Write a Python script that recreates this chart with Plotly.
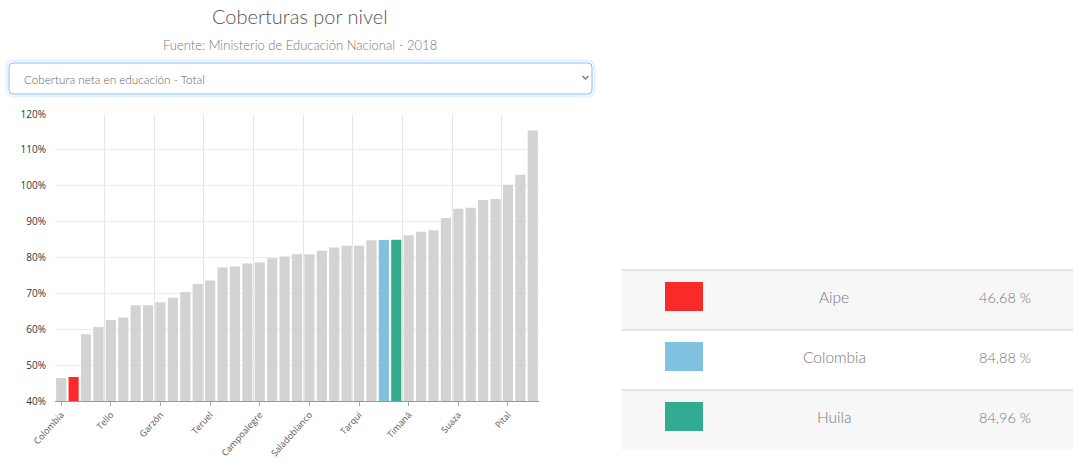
import plotly.graph_objects as go

# ---------------- data ----------------
bar_names = [
    "Colombia", "Aipe", "Neiva", "Acevedo", "Tello", "Agrado", "Algeciras", "Altamira",
    "Garzón", "Baraya", "Elías", "Gigante", "Teruel", "Guadalupe", "Hobo", "Iquira",
    "Campoalegre", "Isnos", "La Argentina", "La Plata", "Saladoblanco", "Nátaga", "Oporapa",
    "Paicol", "Tarqui", "Palermo", "Colombia", "Huila", "Timaná", "Palestina", "Pitalito",
    "Rivera", "Suaza", "San Agustín", "Santa María", "Tesalia", "Pital", "Villavieja", "Yaguará",
]
bar_values = [
    46.4, 46.68, 58.6, 60.6, 62.6, 63.3, 66.7, 66.7,
    67.5, 68.8, 70.4, 72.6, 73.6, 77.2, 77.5, 78.3,
    78.6, 79.8, 80.3, 80.9, 80.9, 81.9, 82.8,
    83.3, 83.3, 84.8, 84.88, 84.96, 86.2, 87.2, 87.6,
    91.0, 93.6, 93.9, 96.0, 96.3, 100.3, 103.1, 115.4,
]
tick_every = 4
y_ticks = [40, 50, 60, 70, 80, 90, 100, 110, 120]
y_tick_labels = [f"{v}%" for v in y_ticks]

table_names = ["Aipe", "Colombia", "Huila"]
table_values = [46.68, 84.88, 84.96]
table_bar_index = [1, 26, 27]
table_colors = ["#fa2a2a", "#80c1e0", "#33ab93"]

title_text = "Coberturas por nivel"
subtitle_text = "Fuente: Ministerio de Educación Nacional - 2018"
select_text = "Cobertura neta en educación - Total"

# ---------------- layout geometry (pixels) ----------------
W, H = 1073, 461
ML, MR, MT, MB = 55, 534, 114, 60
PW, PH = W - ML - MR, H - MT - MB


def px(x):
    return (x - ML) / PW


def py(y):
    return 1 - (y - MT) / PH


THIN = "Lato Light, Lato, sans-serif"

gray = "#d3d3d3"
colors = [gray] * len(bar_values)
for idx, c in zip(table_bar_index, table_colors):
    colors[idx] = c

xs = list(range(len(bar_values)))
tickvals = xs[::tick_every]
ticktext = [bar_names[i] for i in tickvals]
minor_vals = [v - 0.5 for v in tickvals] + [len(xs) - 0.5]

fig = go.Figure()
fig.add_trace(go.Bar(
    x=xs, y=bar_values, marker=dict(color=colors, line=dict(width=0)),
    width=0.82, hovertext=bar_names, hoverinfo="text+y",
))

fig.update_layout(
    width=W, height=H,
    margin=dict(l=ML, r=MR, t=MT, b=MB, pad=0, autoexpand=False),
    paper_bgcolor="white", plot_bgcolor="white",
    showlegend=False,
    font=dict(family="Open Sans, sans-serif", color="#444"),
    xaxis=dict(
        automargin=False,
        range=[-0.5, len(xs) - 0.5],
        tickmode="array", tickvals=tickvals, ticktext=ticktext,
        tickangle=-48, tickfont=dict(size=9, color="#555", family="Open Sans"),
        showgrid=False, zeroline=False,
        showline=True, linecolor="#999", linewidth=1,
        ticks="outside", ticklen=4, tickcolor="#aaa",
        minor=dict(tickvals=minor_vals, showgrid=True, gridcolor="#e6e6e6", ticks=""),
    ),
    yaxis=dict(
        automargin=False,
        range=[40, 120], tickmode="array", tickvals=y_ticks, ticktext=y_tick_labels,
        tickfont=dict(size=10, color="#333", family="Open Sans"),
        showgrid=True, gridcolor="#ececec", zeroline=False, showline=False,
        ticks="", ticklabelstandoff=8,
    ),
)

shapes = []
annotations = []

# title / subtitle
annotations.append(dict(xref="paper", yref="paper", x=px(300), y=py(16), text=title_text,
                        showarrow=False, xanchor="center", yanchor="middle",
                        font=dict(family=THIN, size=20, color="#555", weight=300)))
annotations.append(dict(xref="paper", yref="paper", x=px(300), y=py(45), text=subtitle_text,
                        showarrow=False, xanchor="center", yanchor="middle",
                        font=dict(family=THIN, size=13, color="#777", weight=300)))


# dropdown box (with soft glow)
def rounded_rect(x0, y0, x1, y1, r):
    X0, X1 = px(x0), px(x1)
    Y0, Y1 = py(y0), py(y1)
    rx, ry = r / PW, r / PH
    return (f"M {X0+rx} {Y0} L {X1-rx} {Y0} Q {X1} {Y0} {X1} {Y0-ry} "
            f"L {X1} {Y1+ry} Q {X1} {Y1} {X1-rx} {Y1} L {X0+rx} {Y1} "
            f"Q {X0} {Y1} {X0} {Y1+ry} L {X0} {Y0-ry} Q {X0} {Y0} {X0+rx} {Y0} Z")


for grow, col in [(3, "rgba(128,189,255,0.15)"), (2, "rgba(128,189,255,0.25)")]:
    shapes.append(dict(type="path", xref="paper", yref="paper",
                       path=rounded_rect(9 - grow, 63 - grow, 592 + grow, 94 + grow, 4 + grow),
                       line=dict(width=1, color=col), fillcolor="rgba(0,0,0,0)", layer="above"))
shapes.append(dict(type="path", xref="paper", yref="paper",
                   path=rounded_rect(9, 63, 592, 94, 4),
                   line=dict(width=1, color="#80bdff"), fillcolor="white", layer="above"))
annotations.append(dict(xref="paper", yref="paper", x=px(22), y=py(78.5), text=select_text,
                        showarrow=False, xanchor="left", yanchor="middle",
                        font=dict(family=THIN, size=11.7, color="#666", weight=300)))
shapes.append(dict(type="path", xref="paper", yref="paper",
                   path=f"M {px(582.5)} {py(76)} L {px(585.5)} {py(79)} L {px(588.5)} {py(76)}",
                   line=dict(width=1.3, color="#777"), layer="above"))

# table on right
row_top, row_h = 270, 60
tx0, tx1 = 622, W
for i, (name, val, col) in enumerate(zip(table_names, table_values, table_colors)):
    y0 = row_top + i * row_h
    y1 = y0 + row_h
    bg = "#f7f7f7" if i % 2 == 0 else "white"
    shapes.append(dict(type="rect", xref="paper", yref="paper",
                       x0=px(tx0), x1=px(tx1), y0=py(y0), y1=py(y1),
                       fillcolor=bg, line=dict(width=0), layer="below"))
    shapes.append(dict(type="line", xref="paper", yref="paper",
                       x0=px(tx0), x1=px(tx1), y0=py(y0), y1=py(y0),
                       line=dict(width=1.5, color="#dedede")))
    shapes.append(dict(type="rect", xref="paper", yref="paper",
                       x0=px(665), x1=px(703), y0=py(y0 + 12), y1=py(y0 + 41),
                       fillcolor=col, line=dict(width=0)))
    yc = y0 + 27
    annotations.append(dict(xref="paper", yref="paper", x=px(834), y=py(yc), text=name,
                            showarrow=False, xanchor="center", yanchor="middle",
                            font=dict(family=THIN, size=15.5, color="#777", weight=300)))
    annotations.append(dict(xref="paper", yref="paper", x=px(1005), y=py(yc),
                            text=f"{val:.2f}".replace(".", ",") + " %",
                            showarrow=False, xanchor="center", yanchor="middle",
                            font=dict(family=THIN, size=14.5, color="#777", weight=300)))

fig.update_layout(shapes=shapes, annotations=annotations)
fig.write_html(
    "out.html",
    config={"displayModeBar": False},
    post_script="document.body.style.margin='0';document.body.style.overflow='hidden';",
)
